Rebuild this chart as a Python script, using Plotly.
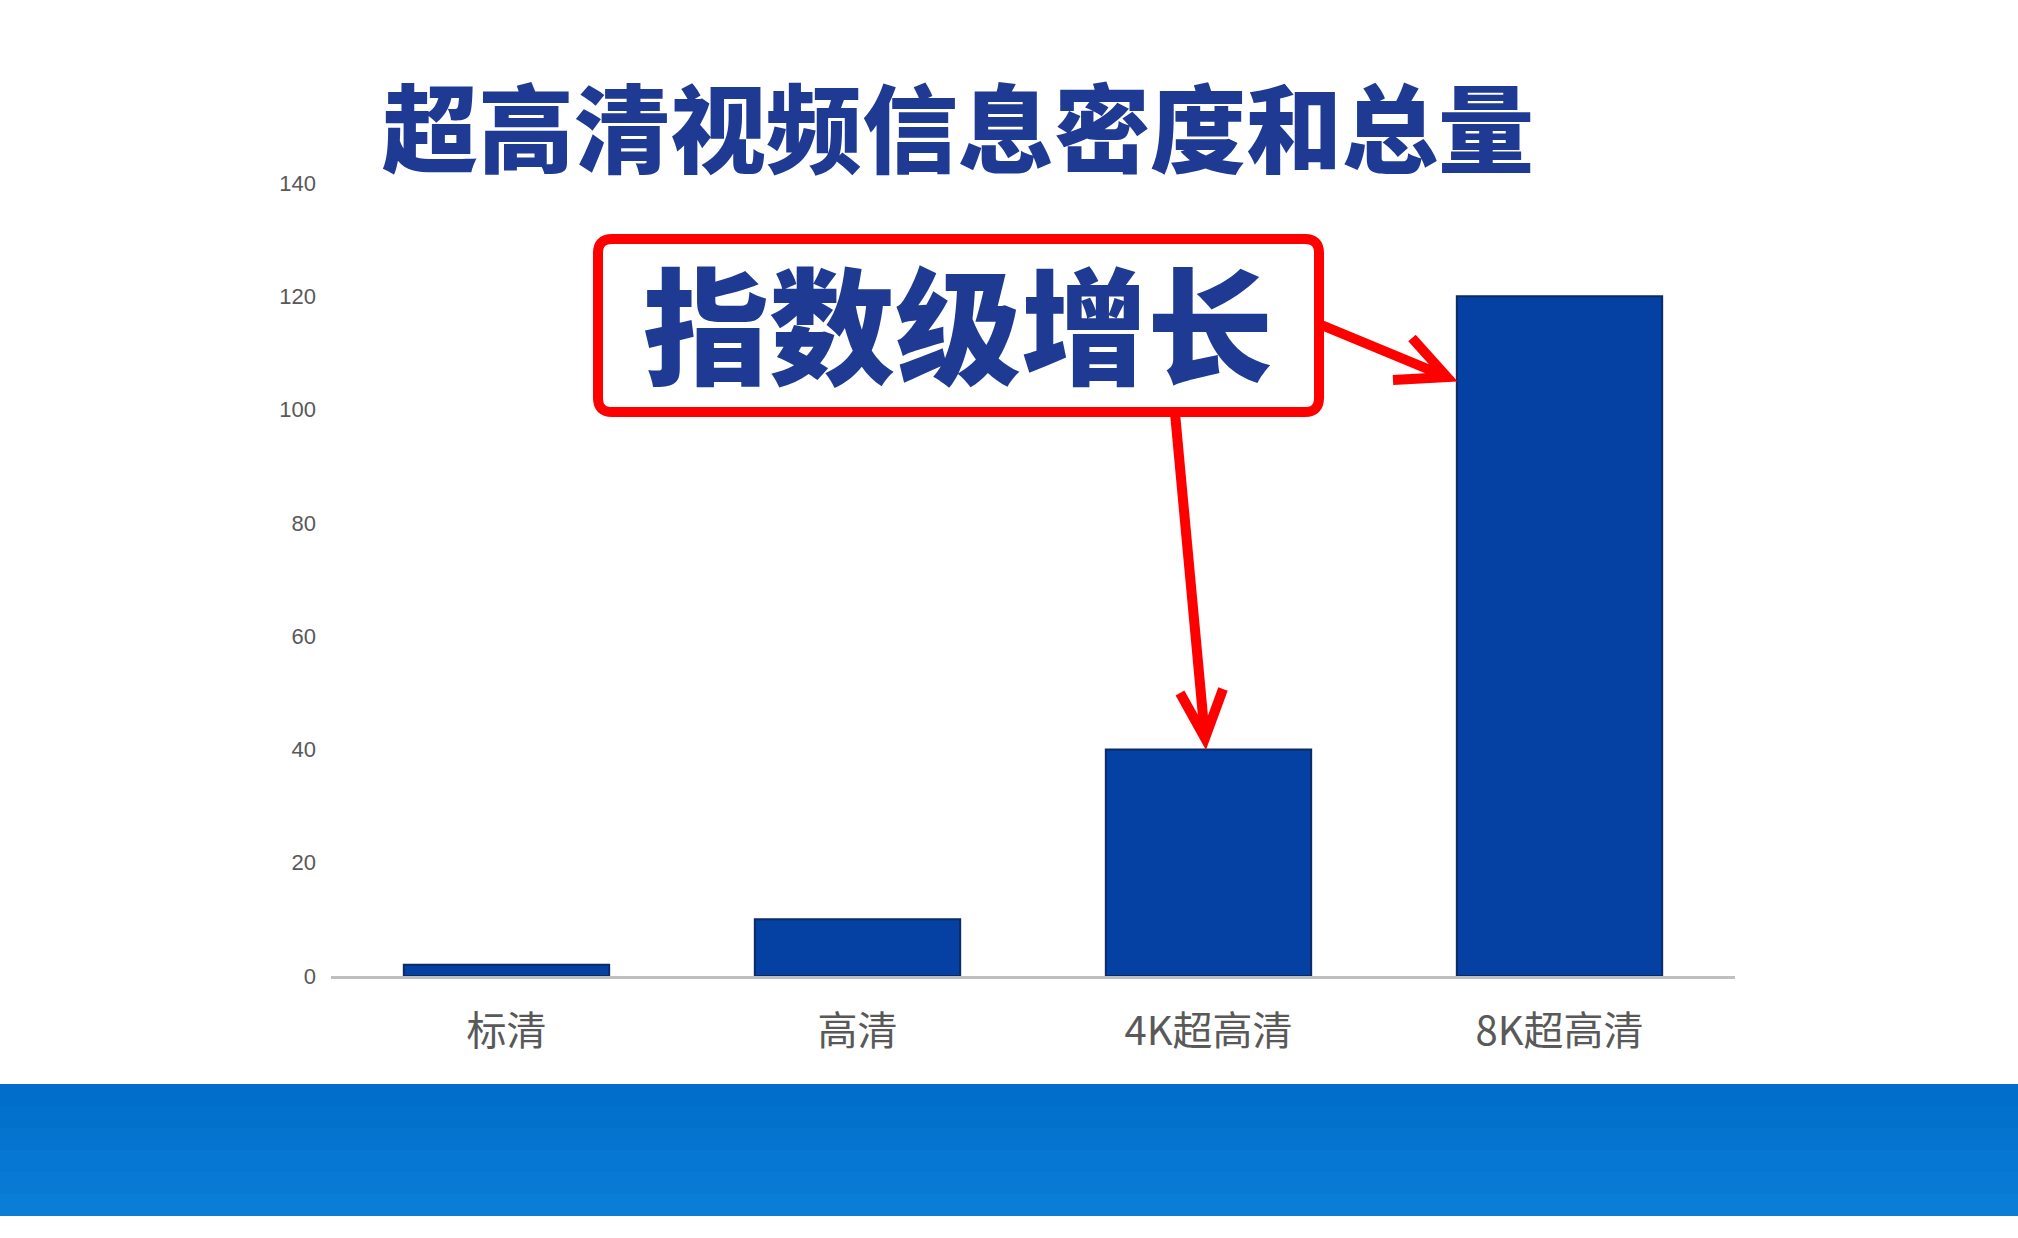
import plotly.graph_objects as go

# chart data
categories = ["标清", "高清", "4K超高清", "8K超高清"]
values = [2, 10, 40, 120]
y_ticks = [0, 20, 40, 60, 80, 100, 120, 140]

title_text = "超高清视频信息密度和总量"
callout_text = "指数级增长"

# figure size / plot area in page pixels (body margin removed below)
W, H = 2018, 1238
L, R, T, B = 331, 1735, 183, 976

CJK = "Noto Sans CJK SC"
NAVY = "#1F3A93"
RED = "#FF0000"


def px(x, y):
    # page pixel -> offset from plot bottom-left (y up)
    return x - L, B - y


def pixel_shape(path, **kw):
    return dict(type="path", path=path, xref="paper", yref="paper",
                xanchor=0, yanchor=0, xsizemode="pixel", ysizemode="pixel",
                **kw)


def path_from(points, cmds):
    out = []
    for c, (x, y) in zip(cmds, points):
        X, Y = px(x, y)
        out.append(f"{c} {X} {Y}")
    return " ".join(out)


fig = go.Figure(go.Bar(
    x=categories,
    y=values,
    marker=dict(color="#0540A3", line=dict(color="#0B2A66", width=2)),
    width=0.585,
    hoverinfo="skip",
))

shapes = []

# blue band at the bottom, light vertical gradient
band_top, band_bot = 1084, 1216
band_cols = ["#006ECA", "#0271CC", "#0474CF", "#0677D2", "#087AD4", "#0A7ED7"]
step = (band_bot - band_top) / len(band_cols)
for i, c in enumerate(band_cols):
    y0 = band_top + i * step
    y1 = min(y0 + step + 1, band_bot)
    p = path_from([(0, y0), (W, y0), (W, y1), (0, y1)], ["M", "L", "L", "L"]) + " Z"
    shapes.append(pixel_shape(p, fillcolor=c, line=dict(width=0), layer="above"))

# red rounded callout box
bx0, bx1, by0, by1, r = 598, 1319, 239, 412, 14
X0, Y0 = px(bx0, by0)
X1, Y1 = px(bx1, by1)
box = (f"M {X0 + r} {Y0} L {X1 - r} {Y0} Q {X1} {Y0} {X1} {Y0 - r} "
       f"L {X1} {Y1 + r} Q {X1} {Y1} {X1 - r} {Y1} "
       f"L {X0 + r} {Y1} Q {X0} {Y1} {X0} {Y1 + r} "
       f"L {X0} {Y0 - r} Q {X0} {Y0} {X0 + r} {Y0} Z")
shapes.append(pixel_shape(box, fillcolor="white", line=dict(color=RED, width=10), layer="above"))

# arrows: shaft + open V head
arrows = [
    [(1175, 413), (1205, 738), (1180, 693), (1205, 738), (1223, 689)],
    [(1319, 324), (1447, 377), (1412, 338), (1447, 377), (1393, 380)],
]
for a in arrows:
    p = path_from(a, ["M", "L", "M", "L", "L"])
    shapes.append(pixel_shape(p, line=dict(color=RED, width=10), layer="above"))


def ann(text, x, y, size, color, weight="normal"):
    return dict(text=text, xref="paper", yref="paper",
                x=(x - L) / (R - L), y=(B - y) / (B - T),
                xanchor="center", yanchor="middle", showarrow=False,
                font=dict(family=CJK, size=size, color=color, weight=weight))


annotations = [
    ann(title_text, 958, 123, 96, NAVY, 900),
    ann(callout_text, 958, 320, 126, NAVY, 900),
]

fig.update_layout(
    width=W,
    height=H,
    margin=dict(l=L, r=W - R, t=T, b=H - B, pad=0),
    paper_bgcolor="white",
    plot_bgcolor="white",
    showlegend=False,
    bargap=0.415,
    shapes=shapes,
    annotations=annotations,
    xaxis=dict(
        range=[-0.5, 3.5],
        showline=True, linecolor="#BFBFBF", linewidth=3,
        showgrid=False, zeroline=False, ticks="",
        tickfont=dict(family=CJK, size=40, color="#595959"),
        ticklabelstandoff=18,
    ),
    yaxis=dict(
        range=[0, 140],
        tickvals=y_ticks,
        showline=False, showgrid=False, zeroline=False, ticks="",
        tickfont=dict(family="Arial, Liberation Sans", size=22, color="#595959"),
        ticklabelstandoff=14,
    ),
)

fig.write_html(
    "out.html",
    config={"displayModeBar": False},
    post_script="document.body.style.margin='0';document.body.style.overflow='hidden';",
)
